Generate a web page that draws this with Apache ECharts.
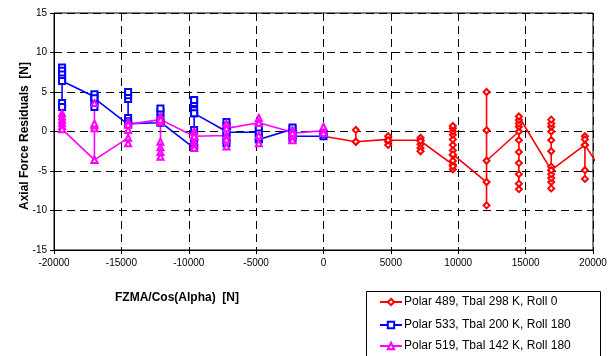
<!DOCTYPE html>
<html>
<head>
<meta charset="utf-8">
<script src="https://cdn.jsdelivr.net/npm/echarts@6/dist/echarts.min.js"></script>
<style>
html,body{margin:0;padding:0;background:#fff;}
#c{width:610px;height:356px;}
</style>
</head>
<body>
<div id="c"></div>
<script>
// Series names
const seriesNames = [
  'Polar 489, Tbal 298 K, Roll 0',
  'Polar 533, Tbal 200 K, Roll 180',
  'Polar 519, Tbal 142 K, Roll 180'
];
// Axis ticks
const xTicks = [-20000, -15000, -10000, -5000, 0, 5000, 10000, 15000, 20000];
const yTicks = [-15, -10, -5, 0, 5, 10, 15];

// Red series: x positions and the ordered y values measured at each position
const redX = [0, 2400, 4800, 7200, 9600, 12100, 14500, 16900, 19400, 21800];
const redY = [
  [-0.3, -0.6],
  [-1.3, 0.2, -1.3],
  [-1.0, -0.6, -1.3, -1.7, -1.1],
  [-1.1, -0.8, -1.6, -2.1, -2.5, -1.2],
  [-4.2, -4.8, -4.4, -3.7, -3.0, -2.4, -1.7, -1.0, -0.4, 0.0, 0.4, 0.7, -2.9],
  [-6.4, -9.35, 5.0, 0.15, -3.7],
  [0.0, -1.1, -2.6, -4.0, -5.4, -6.6, -7.3, 0.6, 1.0, 1.45, 1.9],
  [-4.9, -7.2, -6.4, -5.9, -5.4, -4.45, -2.5, -1.1, 0.0, 0.6, 1.0, 1.5, -4.9],
  [-1.7, -0.6, -1.0, -4.9, -6.0, -1.7],
  [-8.0]
];

// Blue series
const blueX = [-19400, -17000, -14500, -12100, -9600, -7200, -4800, -2300, 0];
const blueY = [
  [8.1, 7.7, 7.2, 6.7, 3.6, 3.1, 6.4],
  [4.4, 4.7, 3.1, 3.6, 4.2],
  [0.9, 1.7, 1.3, 4.1, 4.6, 5.0, 1.0],
  [1.1, 1.7, 2.5, 2.9, 1.2],
  [-2.1, -1.5, 0.2, 2.3, 2.7, 3.6, 4.0, 2.3],
  [0.0, 1.2, 0.7, -1.0, -1.5, -0.1],
  [-0.1, 0.5, -1.0, -0.8],
  [0.3, 0.5, -0.2, -1.0, -0.6],
  [-0.6, -0.3]
];

// Magenta series
const magX = [-19400, -17000, -14500, -12100, -9600, -7200, -4800, -2300, 0];
const magY = [
  [2.3, 1.9, 1.5, 1.1, 0.7, 0.3],
  [-3.6, 0.4, 0.8, 1.0, 3.6, -3.6],
  [-0.8, -1.5, 0.2, 1.2, 0.9],
  [1.5, 1.9, 1.2, -1.3, -2.0, -2.6, -3.2, 1.5],
  [-0.6, 0.0, -0.5, -1.2, -1.7, -2.1, -0.6],
  [-0.5, -1.0, -1.9, 1.0, 0.4],
  [1.1, 1.7, -0.5, -1.5, 1.1],
  [-0.1, 0.2, -0.6, -1.1, -0.2],
  [0.1, 0.6, -0.2]
];

function build(xs, ys) {
  const out = [];
  xs.forEach((x, i) => ys[i].forEach(y => out.push([x, y])));
  return out;
}

const FONT = 'Liberation Sans, Arial, sans-serif';
const dash = { color: '#000', width: 1, type: [8, 5] };

const chart = echarts.init(document.getElementById('c'), null, { renderer: 'canvas' });

function mkSeries(name, data, color, symbol, size) {
  return {
    name: name,
    type: 'line',
    data: data,
    symbol: symbol,
    symbolSize: size,
    showAllSymbol: true,
    clip: true,
    lineStyle: { color: color, width: 1.6 },
    itemStyle: { color: color, borderWidth: 1 },
    emphasis: { disabled: true },
    animation: false
  };
}

function mkLegend(name, top) {
  return {
    orient: 'vertical',
    left: 379, top: top,
    padding: 0,
    itemWidth: 22, itemHeight: 8,
    itemGap: 0,
    textStyle: { fontFamily: FONT, fontSize: 12, color: '#000', padding: [0, 0, 0, -3] },
    data: [name],
    selectedMode: false
  };
}

chart.setOption({
  animation: false,
  backgroundColor: '#fff',
  grid: { left: 54, right: 17, top: 13, bottom: 106, show: true, borderColor: '#000', borderWidth: 1, backgroundColor: 'transparent' },
  xAxis: {
    type: 'value',
    min: xTicks[0], max: xTicks[xTicks.length - 1], interval: 5000,
    axisLine: { show: true, onZero: false, lineStyle: { color: '#000', width: 1 } },
    axisTick: { show: true, inside: false, length: 4, lineStyle: { color: '#000' } },
    axisLabel: { color: '#000', fontFamily: FONT, fontSize: 10, margin: 8, formatter: v => String(v) },
    splitLine: { show: true, lineStyle: dash }
  },
  yAxis: {
    type: 'value',
    min: yTicks[0], max: yTicks[yTicks.length - 1], interval: 5,
    axisLine: { show: true, onZero: false, lineStyle: { color: '#000', width: 1 } },
    axisTick: { show: true, inside: false, length: 4, lineStyle: { color: '#000' } },
    axisLabel: { color: '#000', fontFamily: FONT, fontSize: 10, margin: 7, formatter: v => String(v) },
    splitLine: { show: true, lineStyle: dash }
  },
  legend: [
    mkLegend(seriesNames[0], 296),
    mkLegend(seriesNames[1], 319),
    mkLegend(seriesNames[2], 340)
  ],
  graphic: [
    {
      type: 'rect', z: -1,
      shape: { x: 366.5, y: 291.5, width: 234, height: 80 },
      style: { fill: '#fff', stroke: '#000', lineWidth: 1 }
    },
    {
      type: 'text',
      style: { text: 'Axial Force Residuals  [N]', font: 'bold 12px ' + FONT, fill: '#000', textAlign: 'center', textVerticalAlign: 'middle' },
      x: 25, y: 136, rotation: Math.PI / 2
    },
    {
      type: 'text',
      style: { text: 'FZMA/Cos(Alpha)  [N]', font: 'bold 12px ' + FONT, fill: '#000', textAlign: 'center', textVerticalAlign: 'middle' },
      x: 177, y: 298
    }
  ],
  series: [
    mkSeries(seriesNames[0], build(redX, redY), '#ff0000', 'emptyDiamond', 6),
    mkSeries(seriesNames[1], build(blueX, blueY), '#0000ff', 'emptyRect', 6),
    mkSeries(seriesNames[2], build(magX, magY), '#ff00ff', 'emptyTriangle', 6)
  ]
});
</script>
</body>
</html>
